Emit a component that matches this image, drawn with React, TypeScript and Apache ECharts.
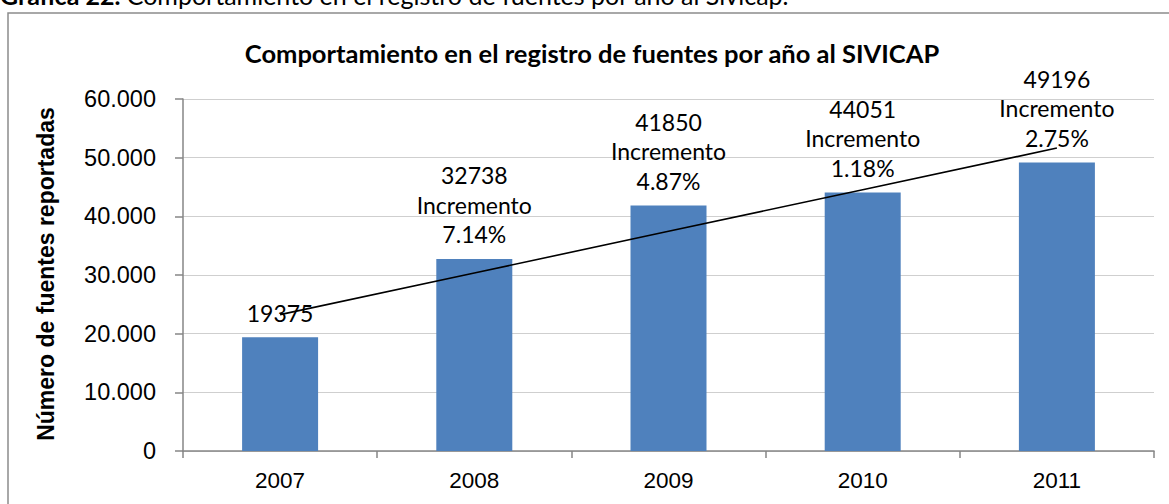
import React, { useEffect, useRef } from "react";
import * as echarts from "echarts";

const years = ["2007", "2008", "2009", "2010", "2011"];
const fuentes = [19375, 32738, 41850, 44051, 49196];
const incrementos = ["", "7.14%", "4.87%", "1.18%", "2.75%"];
const yTicks = [0, 10000, 20000, 30000, 40000, 50000, 60000];

const titleText = "Comportamiento en el registro de fuentes por año al SIVICAP";
const yAxisName = "Número de fuentes reportadas";
const captionBold = "Gráfica 22.";
const captionRest = " Comportamiento en el registro de fuentes por año al Sivicap.";

// Linear trendline (least squares), as Excel computes it
function linearTrend(vals: number[]): number[] {
  const n = vals.length;
  const xs = vals.map((_, i) => i);
  const mx = xs.reduce((a, b) => a + b, 0) / n;
  const my = vals.reduce((a, b) => a + b, 0) / n;
  let num = 0;
  let den = 0;
  for (let i = 0; i < n; i++) {
    num += (xs[i] - mx) * (vals[i] - my);
    den += (xs[i] - mx) * (xs[i] - mx);
  }
  const slope = num / den;
  const icpt = my - slope * mx;
  return xs.map((x) => icpt + slope * x);
}

function fmtThousands(v: number): string {
  return String(v).replace(/\B(?=(\d{3})+(?!\d))/g, ".");
}

export default function App() {
  const ref = useRef<HTMLDivElement>(null);
  useEffect(() => {
    if (!ref.current) return;
    const chart = echarts.init(ref.current, null, { renderer: "svg" });
    const trend = linearTrend(fuentes);
    chart.setOption({
      animation: false,
      backgroundColor: "#ffffff",
      grid: { left: 183, right: 15, top: 99, bottom: 53 },
      graphic: [
        {
          type: "rect",
          shape: { x: 8, y: 13, width: 1170, height: 520 },
          style: { fill: "none", stroke: "#8c8c8c", lineWidth: 1.5 },
          silent: true,
        },
        {
          type: "text",
          x: 0,
          y: -5,
          style: {
            text: "{b|" + captionBold + "}{r|" + captionRest + "}",
            textVerticalAlign: "middle",
            rich: {
              b: { fontFamily: "Lato", fontWeight: "bold", fontSize: 25, fill: "#000" },
              r: { fontFamily: "Lato", fontSize: 25, fill: "#000" },
            },
          },
        },
        {
          type: "text",
          x: 592,
          y: 53,
          style: {
            text: titleText,
            fontFamily: "Lato",
            fontWeight: "bold",
            fontSize: 25.5,
            fill: "#000",
            textAlign: "center",
            textVerticalAlign: "middle",
          },
        },
        {
          type: "text",
          x: 46,
          y: 274,
          rotation: Math.PI / 2,
          style: {
            text: yAxisName,
            fontFamily: "Liberation Sans",
            fontWeight: "bold",
            fontSize: 23,
            fill: "#000",
            textAlign: "center",
            textVerticalAlign: "middle",
          },
        },
      ],
      xAxis: {
        type: "category",
        data: years,
        axisLine: { lineStyle: { color: "#868686", width: 1.5 } },
        axisTick: { show: true, length: 7, lineStyle: { color: "#868686", width: 1.5 } },
        axisLabel: {
          fontFamily: "Liberation Sans",
          fontSize: 22.5,
          color: "#000",
          margin: 18,
        },
      },
      yAxis: {
        type: "value",
        min: yTicks[0],
        max: yTicks[yTicks.length - 1],
        interval: 10000,
        axisLine: { show: true, lineStyle: { color: "#868686", width: 1.5 } },
        axisTick: { show: true, length: 8, lineStyle: { color: "#868686", width: 1.5 } },
        splitLine: { lineStyle: { color: "#cfcfcf", width: 1.2 } },
        axisLabel: {
          fontFamily: "Liberation Sans",
          fontSize: 23.5,
          color: "#000",
          margin: 27,
          formatter: (v: number) => fmtThousands(v),
        },
      },
      series: [
        {
          type: "bar",
          data: fuentes,
          barWidth: 76,
          itemStyle: { color: "#4f81bd" },
          label: {
            show: true,
            position: "top",
            distance: 10,
            fontFamily: "Lato",
            fontSize: 23,
            lineHeight: 29.5,
            color: "#000",
            align: "center",
            formatter: (p: any) =>
              incrementos[p.dataIndex]
                ? p.value + "\nIncremento\n" + incrementos[p.dataIndex]
                : String(p.value),
          },
          z: 2,
        },
        {
          type: "line",
          data: trend,
          symbol: "none",
          lineStyle: { color: "#000", width: 1.6 },
          z: 5,
          silent: true,
        },
      ],
    });
    return () => chart.dispose();
  }, []);
  return (
    <div
      ref={ref}
      style={{ position: "fixed", left: 0, top: 0, width: 1169, height: 504 }}
    />
  );
}
